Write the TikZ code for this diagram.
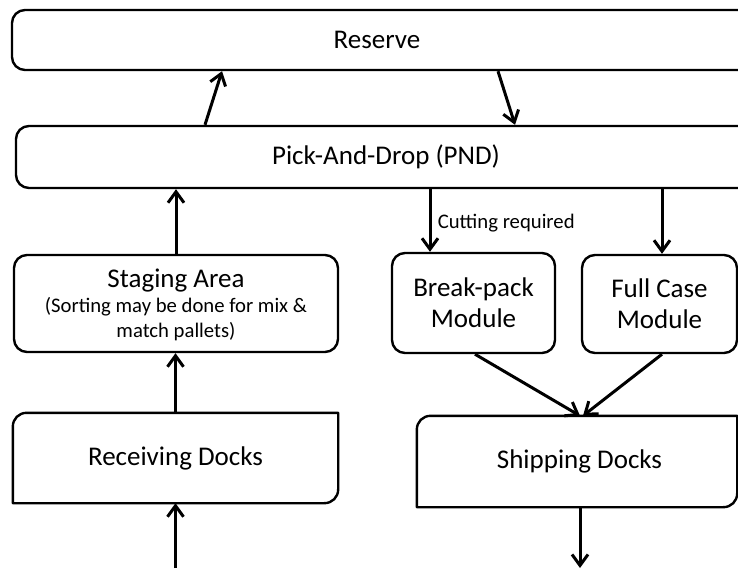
\documentclass[tikz,border=0pt]{standalone}
\usepackage{fontspec}
\setmainfont{Carlito}
\usetikzlibrary{arrows.meta,calc}
\begin{document}
\begin{tikzpicture}[x=1pt,y=-1pt,
  big/.style={font=\fontsize{27}{31}\selectfont},
  small/.style={font=\fontsize{20.7}{25}\selectfont},
  box/.style={draw, line width=2.4pt, rounded corners=13pt, inner sep=0pt, align=center, big},
  plainbox/.style={inner sep=0pt, align=center, big},
  outline/.style={line width=2.4pt, line join=round},
  arr/.style={line width=3pt, -{Straight Barb[length=11pt,width=16pt]}}]
\useasboundingbox (0,0) rectangle (738,569);
\clip (0,0) rectangle (738,569);

% boxes
\node[box, minimum width=748pt, minimum height=60pt] (reserve) at (386,40) {\hspace*{-18pt}Reserve};
\node[box, minimum width=740pt, minimum height=62pt] (pnd) at (386,157) {Pick-And-Drop (PND)};
\node[box, small, minimum width=324pt, minimum height=97pt] (staging) at (176,303.5)
  {\rule{0pt}{22pt}{\fontsize{27}{27}\selectfont Staging Area}\\(Sorting may be done for mix \&\\match pallets)};
\node[box, minimum width=163pt, minimum height=100pt] (breakpack) at (473.5,303) {Break-pack\\Module};
\node[box, minimum width=155pt, minimum height=98pt] (fullcase) at (659.5,304) {Full Case\\Module};
\node[plainbox, minimum width=325pt, minimum height=90pt] (recv) at (175.5,458) {Receiving Docks};
\node[plainbox, minimum width=320pt, minimum height=91pt] (ship) at (577,461.5) {\hspace*{5pt}Shipping Docks};

\draw[outline] (recv.south west) -- ([yshift=-14pt]recv.north west)
  .. controls ([yshift=-6pt]recv.north west) and ([xshift=6pt]recv.north west) .. ([xshift=14pt]recv.north west)
  -- (recv.north east) -- ([yshift=14pt]recv.south east)
  .. controls ([yshift=6pt]recv.south east) and ([xshift=-6pt]recv.south east) .. ([xshift=-14pt]recv.south east) -- cycle;
\draw[outline] (ship.south west) -- ([yshift=-14pt]ship.north west)
  .. controls ([yshift=-6pt]ship.north west) and ([xshift=6pt]ship.north west) .. ([xshift=14pt]ship.north west)
  -- (ship.north east) -- ([yshift=14pt]ship.south east)
  .. controls ([yshift=6pt]ship.south east) and ([xshift=-6pt]ship.south east) .. ([xshift=-14pt]ship.south east) -- cycle;

% free ends
\coordinate (inlet) at (175.5,568);
\coordinate (outlet) at (580,568);

% connectors
\draw[arr] ([xshift=-181pt]pnd.north) -- ([xshift=-164pt]reserve.south);
\draw[arr] ([xshift=112pt]reserve.south) -- ([xshift=129pt]pnd.north);
\draw[arr] (staging.north) -- (staging.north |- pnd.south);
\draw[arr] ([xshift=-43.5pt]breakpack.north |- pnd.south) -- ([xshift=-43.5pt]breakpack.north)
  node[midway, anchor=west, xshift=3pt, yshift=-3pt, small] {Cutting required};
\draw[arr] ([xshift=2.5pt]fullcase.north |- pnd.south) -- ([xshift=2.5pt]fullcase.north);
\draw[arr] ([xshift=1.5pt]breakpack.south) -- ([xshift=3pt]ship.north);
\draw[arr] ([xshift=2.5pt]fullcase.south) -- ([xshift=6pt]ship.north);
\draw[arr] (recv.north) -- (recv.north |- staging.south);
\draw[arr] (inlet) -- (recv.south);
\draw[arr] ([xshift=3pt]ship.south) -- (outlet);
\end{tikzpicture}
\end{document}
